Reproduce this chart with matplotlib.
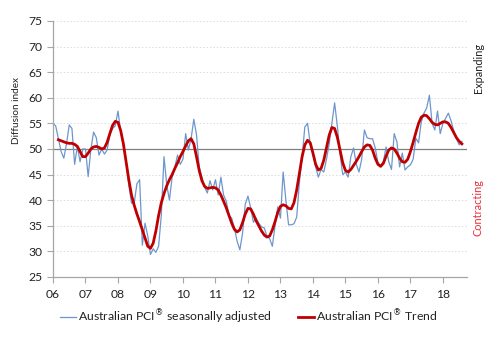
import numpy as np
import matplotlib
matplotlib.use('Agg')
from matplotlib import pyplot as plt

# monthly readings, Jan 2006 onwards
seasonal_adjusted = [
    55.0, 54.5, 52.0, 49.5, 48.2, 51.0, 54.7, 54.0, 47.0, 50.5, 47.5, 50.0,   # 2006
    50.0, 44.6, 50.0, 53.3, 52.2, 48.8, 50.0, 49.0, 49.8, 52.8, 54.0, 54.5,   # 2007
    57.4, 53.5, 51.0, 47.5, 43.0, 39.4, 39.5, 43.2, 44.0, 31.2, 35.5, 33.0,   # 2008
    29.4, 30.5, 29.8, 31.0, 37.0, 48.5, 43.0, 40.0, 44.5, 46.5, 48.8, 47.0,   # 2009
    48.0, 53.0, 49.8, 52.0, 55.8, 52.8, 46.5, 44.5, 42.5, 41.4, 43.8, 42.0,   # 2010
    44.0, 41.0, 44.5, 41.0, 39.8, 37.0, 36.5, 34.5, 32.0, 30.3, 33.5, 39.2,   # 2011
    40.8, 38.5, 35.7, 36.5, 35.5, 34.8, 34.6, 33.0, 32.5, 31.0, 35.0, 38.7,   # 2012
    36.5, 45.5, 40.0, 35.2, 35.2, 35.4, 36.7, 43.5, 48.5, 54.3, 55.0, 51.0,   # 2013
    49.0, 46.5, 44.5, 46.0, 45.5, 48.0, 51.0, 55.0, 59.0, 54.5, 49.0, 45.0,   # 2014
    45.5, 44.5, 48.5, 50.2, 47.0, 45.5, 48.0, 53.7, 52.2, 52.0, 52.0, 50.2,   # 2015
    47.3, 46.8, 47.5, 50.4, 47.5, 46.0, 53.0, 51.4, 46.5, 49.2, 45.9, 46.5,   # 2016
    46.9, 48.0, 52.1, 51.2, 55.3, 57.0, 58.0, 60.5, 55.0, 53.7, 57.4, 53.0,   # 2017
    55.0, 56.0, 57.0, 55.5, 53.5, 52.0, 50.8, 51.5,                           # 2018
]

# trend series starts in Mar 2006
trend_start = 2
trend = [
    51.8, 51.6, 51.4, 51.2, 51.1, 51.1, 50.9, 50.5, 49.5, 48.5,
    48.5, 49.2, 50.0, 50.4, 50.5, 50.3, 50.0, 50.2, 51.3, 53.0, 54.6, 55.4,
    55.2, 53.6, 51.0, 47.5, 44.0, 41.0, 39.0, 37.3, 35.8, 34.2, 32.6, 31.0,
    30.6, 31.6, 34.0, 37.0, 39.5, 41.3, 42.8, 44.0, 45.0, 46.2, 47.3, 48.5,
    49.5, 50.6, 51.6, 52.0, 51.0, 48.5, 45.8, 43.8, 42.7, 42.3, 42.4, 42.5,
    42.4, 42.0, 41.0, 39.8, 38.5, 37.0, 35.5, 34.3, 33.8, 34.2, 35.6, 37.3,
    38.4, 38.3, 37.3, 36.0, 35.0, 34.0, 33.2, 32.8, 33.0, 34.2, 35.8, 37.6,
    38.8, 39.1, 38.9, 38.4, 38.3, 39.5, 42.0, 45.3, 48.5, 50.8, 51.7, 51.2,
    49.2, 47.0, 45.9, 46.2, 47.8, 50.2, 52.7, 54.2, 54.0, 52.3, 49.8, 47.3,
    45.8, 45.5, 46.0, 46.8, 47.6, 48.5, 49.5, 50.4, 50.8, 50.7, 49.8, 48.2,
    47.0, 46.6, 47.2, 48.6, 49.8, 50.2, 50.0, 49.2, 48.2, 47.5, 47.4, 48.0,
    49.5, 51.3, 53.2, 55.0, 56.2, 56.6, 56.5, 55.9, 55.2, 54.8, 54.7, 55.0,
    55.3, 55.3, 55.0, 54.2, 53.2, 52.2, 51.5, 51.0,
]

years = list(range(2006, 2019))
year_labels = ['%02d' % (y % 100) for y in years]

t_sa = 2006 + np.arange(len(seasonal_adjusted)) / 12.0
t_trend = 2006 + (trend_start + np.arange(len(trend))) / 12.0

plt.rcParams['font.family'] = ['Lato', 'DejaVu Sans']

fig = plt.figure(figsize=(4.97, 3.38), dpi=100)
ax = fig.add_axes([0.1066, 0.1805, 0.833, 0.7575])

for v in range(25, 80, 5):
    if v != 50:
        ax.axhline(v, color='#dcdcdc', linewidth=0.7, linestyle=(0, (1.5, 2)), zorder=0)
ax.axhline(50, color='#7f7f7f', linewidth=0.9, zorder=1)

ax.plot(t_sa, seasonal_adjusted, color='#6d97cc', linewidth=0.9,
        label='Australian PCI$^{\u00ae}$ seasonally adjusted', zorder=2)
ax.plot(t_trend, trend, color='#c00000', linewidth=2.0, solid_joinstyle='round',
        label='Australian PCI$^{\u00ae}$ Trend', zorder=3)

ax.set_xlim(2006, 2018.74)
ax.set_ylim(25, 75)
ax.set_yticks(range(25, 80, 5))
ax.set_xticks(years)
ax.set_xticklabels(year_labels)
ax.tick_params(axis='both', labelsize=8.7, color='#a6a6a6', length=4, width=0.8,
               labelcolor='#222222')
ax.tick_params(axis='x', pad=5)
for side in ('top', 'right'):
    ax.spines[side].set_visible(False)
for side in ('left', 'bottom'):
    ax.spines[side].set_color('#a6a6a6')
    ax.spines[side].set_linewidth(0.9)

ax.set_ylabel('Diffusion index', fontsize=7.2, color='#222222')
ax.yaxis.set_label_coords(-0.078, 0.65)

fig.text(0.962, 1 - 68 / 338, 'Expanding', rotation=90, fontsize=7.8,
         color='#222222', ha='center', va='center')
fig.text(0.962, 1 - 208 / 338, 'Contracting', rotation=90, fontsize=7.8,
         color='#e8303a', ha='center', va='center')

fig.legend(loc='center', bbox_to_anchor=(0.5, 1 - 317 / 338), ncol=2, frameon=False,
           fontsize=8.8, handlelength=1.3, handletextpad=0.15, columnspacing=2.2,
           labelcolor='#222222')

fig.savefig('out.png', dpi=100)
